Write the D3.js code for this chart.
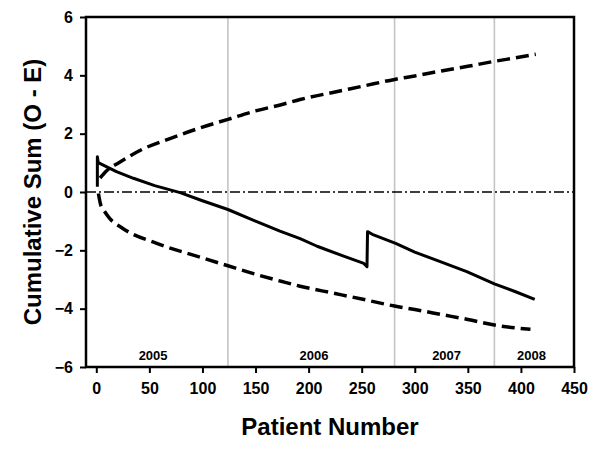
<!DOCTYPE html>
<html>
<head>
<meta charset="utf-8">
<script src="https://cdn.jsdelivr.net/npm/d3@7"></script>
<style>
  body { margin: 0; background: #fff; }
  svg { font-family: "Liberation Sans", Arial, sans-serif; font-weight: bold; }
</style>
</head>
<body>
<svg width="600" height="457"></svg>
<script>
// observed minus expected, cumulative
var cusum = [[1,0.18],[1,1.21],[1.8,1.01],[19,0.7],[35,0.47],[55,0.22],[79,-0.02],[100,-0.3],[124,-0.6],[150,-1.0],[173,-1.34],[192,-1.6],[208,-1.86],[233,-2.2],[252,-2.45],[255,-2.56],[255.5,-1.36],[260,-1.45],[282,-1.76],[300,-2.06],[324,-2.39],[349,-2.73],[375,-3.15],[395,-3.42],[413,-3.68]];
var upper = [[3.5,0.48],[10,0.74],[22,1.02],[42,1.44],[70,1.84],[98,2.2],[124,2.49],[150,2.78],[175,3.0],[192,3.17],[225,3.43],[250,3.62],[281,3.86],[300,3.98],[325,4.15],[350,4.31],[375,4.48],[395,4.6],[414,4.72]];
var lower = [[2,-0.05],[4,-0.42],[7,-0.62],[12,-0.88],[25,-1.25],[57,-1.76],[101,-2.27],[124,-2.53],[150,-2.82],[175,-3.07],[192,-3.23],[225,-3.48],[250,-3.67],[281,-3.91],[300,-4.03],[325,-4.2],[350,-4.37],[375,-4.56],[395,-4.66],[409,-4.71]];
var yearBreaks = [124, 281, 375];
var years = ["2005", "2006", "2007", "2008"];
var yearPos = [53.5, 205, 330, 410];
var xTicks = [0, 50, 100, 150, 200, 250, 300, 350, 400, 450];
var yTicks = [-6, -4, -2, 0, 2, 4, 6];

var svg = d3.select("svg");
var m = {l: 86, r: 574, t: 17, b: 367};

var x = d3.scaleLinear().domain([-9.7, 450]).range([m.l, m.r]);
var y = d3.scaleLinear().domain([-6, 6]).range([m.b, m.t]);

// year separators
svg.selectAll("line.yr")
  .data(yearBreaks)
  .enter()
  .append("line")
  .attr("x1", function(d) { return x(d); })
  .attr("x2", function(d) { return x(d); })
  .attr("y1", m.t)
  .attr("y2", m.b)
  .style("stroke", "#c4c4c4")
  .style("stroke-width", 1.6);

svg.selectAll("text.yr")
  .data(years)
  .enter()
  .append("text")
  .attr("x", function(d, i) { return x(yearPos[i]); })
  .attr("y", 360)
  .attr("text-anchor", "middle")
  .style("font-size", "13px")
  .text(function(d) { return d; });

// zero reference
svg.append("line")
  .attr("x1", m.l).attr("x2", m.r)
  .attr("y1", y(0)).attr("y2", y(0))
  .style("stroke", "#000")
  .style("stroke-width", 1.3)
  .style("stroke-dasharray", "10,3,2,3");

var smooth = d3.line()
  .x(function(d) { return x(d[0]); })
  .y(function(d) { return y(d[1]); })
  .curve(d3.curveMonotoneX);
var straight = d3.line()
  .x(function(d) { return x(d[0]); })
  .y(function(d) { return y(d[1]); });

[upper, lower].forEach(function(b) {
  svg.append("path")
    .datum(b)
    .attr("d", smooth)
    .style("fill", "none")
    .style("stroke", "#000")
    .style("stroke-width", 3.5)
    .style("stroke-dasharray", "13,6");
});

svg.append("path")
  .datum(cusum)
  .attr("d", straight)
  .style("fill", "none")
  .style("stroke", "#000")
  .style("stroke-width", 3)
  .style("stroke-linejoin", "round");

// frame
svg.append("rect")
  .attr("x", m.l).attr("y", m.t)
  .attr("width", m.r - m.l).attr("height", m.b - m.t)
  .style("fill", "none")
  .style("stroke", "#000")
  .style("stroke-width", 2.5);

var xAxis = svg.append("g")
  .attr("transform", "translate(0," + m.b + ")")
  .call(d3.axisBottom(x).tickValues(xTicks).tickSize(6).tickPadding(10));
var yAxis = svg.append("g")
  .attr("transform", "translate(" + m.l + ",0)")
  .call(d3.axisLeft(y).tickValues(yTicks).tickSize(6).tickPadding(7));

[xAxis, yAxis].forEach(function(g) {
  g.select(".domain").remove();
  g.selectAll("line").style("stroke", "#000").style("stroke-width", 2);
  g.selectAll("text")
    .style("font-size", "16px")
    .style("font-family", "'Liberation Sans', Arial, sans-serif")
    .style("font-weight", "bold")
    .style("fill", "#000");
});

svg.append("text")
  .attr("x", (m.l + m.r) / 2)
  .attr("y", 435)
  .attr("text-anchor", "middle")
  .style("font-size", "24px")
  .text("Patient Number");

svg.append("text")
  .attr("transform", "translate(41," + (m.t + m.b) / 2 + ") rotate(-90)")
  .attr("text-anchor", "middle")
  .style("font-size", "24px")
  .text("Cumulative Sum (O - E)");
</script>
</body>
</html>
